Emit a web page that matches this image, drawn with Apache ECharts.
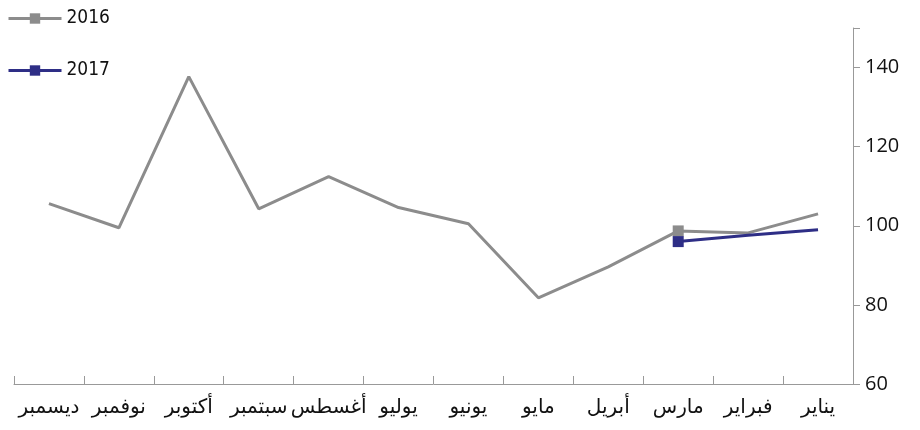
<!DOCTYPE html>
<html><head><meta charset="utf-8">
<script src="https://cdn.jsdelivr.net/npm/echarts@6/dist/echarts.min.js"></script>
<style>html,body{margin:0;padding:0;background:#fff}#c{width:920px;height:430px}</style>
</head><body><div id="c"></div>
<script>
const months = ['يناير','فبراير','مارس','أبريل','مايو','يونيو','يوليو','أغسطس','سبتمبر','أكتوبر','نوفمبر','ديسمبر'];
const values2016 = [103.0, 98.2, 98.7, 89.6, 81.8, 100.5, 104.6, 112.4, 104.3, 137.7, 99.5, 105.6];
const values2017 = [99.0, 97.6, 96.0];
const yTicks = [60, 80, 100, 120, 140];
const markIndex2016 = 2;
const markIndex2017 = 2;

function withMarks(arr, idx){
  return arr.map((v,i)=> i===idx ? {value:v} : {value:v, symbol:'none'});
}

const chart = echarts.init(document.getElementById('c'));
chart.setOption({
  animation:false,
  textStyle:{fontFamily:'Open Sans, DejaVu Sans, sans-serif'},
  legend:{
    orient:'vertical', left:7, top:9, padding:0, itemWidth:53, itemHeight:13, itemGap:33,
    lineStyle:{width:3},
    textStyle:{fontSize:19, color:'#111', fontFamily:'DejaVu Sans Condensed, DejaVu Sans, sans-serif'},
    data:['2016','2017']
  },
  grid:{left:14, right:67, top:28, bottom:46},
  xAxis:{
    type:'category', data:months, inverse:true, boundaryGap:true,
    axisLine:{show:true, lineStyle:{color:'#999', width:1}},
    axisTick:{show:true, inside:true, length:8, interval:0, lineStyle:{color:'#999', width:1}},
    axisLabel:{fontSize:20, color:'#111', margin:14, interval:0, fontFamily:'DejaVu Sans, Noto Sans, sans-serif'}
  },
  yAxis:{
    type:'value', position:'right', min:60, max:150, interval:20,
    axisLine:{show:true, lineStyle:{color:'#999'}},
    axisTick:{show:true, inside:false, length:7, lineStyle:{color:'#999', width:1}},
    splitLine:{show:false},
    axisLabel:{fontSize:20, color:'#111', margin:12,
      formatter: v => yTicks.includes(v) ? String(v) : ''}
  },
  series:[
    {name:'2016', type:'line', data:withMarks(values2016, markIndex2016), symbol:'rect', symbolSize:11,
      lineStyle:{color:'#8c8c8c', width:3}, itemStyle:{color:'#8c8c8c'}},
    {name:'2017', type:'line', data:withMarks(values2017, markIndex2017), symbol:'rect', symbolSize:11,
      lineStyle:{color:'#2e2e86', width:3}, itemStyle:{color:'#2e2e86'}}
  ]
});
</script></body></html>
